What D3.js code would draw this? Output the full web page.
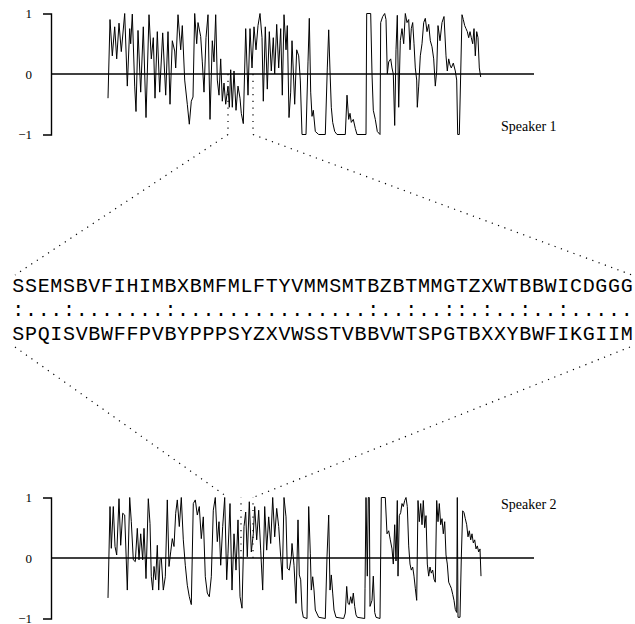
<!DOCTYPE html>
<html>
<head>
<meta charset="utf-8">
<script src="https://cdn.jsdelivr.net/npm/d3@7"></script>
<style>
body { margin: 0; background: #fff; }
svg { display: block; }
.tick text { font-family: "Liberation Serif", serif; font-size: 13px; }
</style>
</head>
<body>
<svg id="chart" width="635" height="624"></svg>
<script>
// [frame, value] pairs
var speaker1 = [[0,-0.4],[2,0.9],[4.3,0.3],[6.7,0.78],[8.7,0.25],[11,0.84],[13.3,0.37],[16.7,1],[19.3,-0.2],[21.7,0.75],[22.7,0.5],[24.3,0.99],[26.7,-0.2],[28,-0.62],[30,0.72],[32.7,-0.3],[35.3,0.78],[38,-0.72],[41,0.98],[43.3,0.25],[45.3,0.6],[47,-0.4],[49.3,0.7],[51.7,-0.3],[54.7,0.68],[57.7,-0.35],[60,0.7],[62,-0.5],[64.3,0.55],[66.7,0.38],[67.7,0.1],[70,0.98],[72.7,0.4],[74.3,0.8],[76.7,-0.1],[79.3,-0.5],[81.3,-0.83],[83.3,-0.45],[85,-0.38],[86.7,1],[88.7,0.5],[90,0.85],[92.7,0.62],[94.3,0.2],[96,-0.3],[98,0.6],[100,0.98],[102,-0.75],[104.3,0.55],[106,0.2],[107.7,0.98],[109.3,-0.1],[111,-0.35],[112.7,0.25],[114.3,-0.45],[116,-0.15],[117.7,-0.5],[120,-0.2],[121.3,-0.55],[122.7,0.07],[124.3,-0.55],[126,0.05],[128,-0.6],[130,-0.2],[132,-0.4],[133.3,-0.65],[135.3,-0.82],[137.7,0.75],[140,-0.35],[142,0.75],[144,0.1],[146,0.78],[148,0.4],[150,0.8],[152,1],[154,0.6],[155.3,-0.45],[157.3,0.78],[159.3,-0.25],[161.3,0.7],[163.3,0.05],[165.3,0.6],[166.7,0],[168.7,0.82],[170.7,0.1],[172.7,0.75],[174.3,-0.35],[176,0.98],[178,0.4],[179.3,0.8],[181,-0.72],[182.7,-0.3],[184,0.55],[186.7,-0.5],[188.7,0.4],[190.7,0.3],[192.3,-0.1],[194,-1],[198,-1],[200,0.2],[201.3,0.92],[202.7,-0.3],[204,-0.7],[205.3,-0.6],[207.3,-0.95],[210.7,-1],[217.3,-1],[219.3,0.1],[220.7,0.73],[222,0.05],[223.3,-0.55],[224.7,-0.8],[226.7,-0.95],[229,-1],[237.3,-1],[239,-0.35],[240.7,-0.75],[242,-0.65],[243.3,-0.8],[245.3,-0.75],[247.3,-0.9],[249,-1],[258,-1],[258.7,1],[262.7,1],[264,0],[265.3,-0.6],[267.3,-0.75],[269.3,-0.95],[272,-1],[272.7,0.85],[274.7,0.95],[276.7,1],[278,0.9],[279.3,0],[280.7,0.2],[282.7,0.25],[284,0.1],[285.3,0],[286.7,-0.85],[288,0.4],[289.3,0.97],[290.7,-0.55],[292.3,0.55],[294,0.75],[295.7,0.5],[297.3,1],[299,0.85],[300.7,0.9],[302,0.4],[303.3,0.75],[304.7,0.85],[306,0.5],[307.3,0.1],[308.7,-0.1],[309.3,-0.55],[310.7,-0.2],[312.3,0.3],[314,0.5],[315.7,0.85],[317.3,0.92],[319,0.7],[320.7,0.82],[322.3,0.55],[324,0.45],[325.7,0.25],[327.3,-0.2],[328.7,0.05],[330,0.8],[332,0.55],[334,0.85],[336,0.95],[338,0.3],[339.3,0.05],[340.7,0.25],[342,0.15],[343.3,0.1],[345.3,0.18],[347.3,0.05],[348.7,-0.1],[349.7,-1],[351.3,-1],[352.7,0],[354,0.98],[355.3,0.9],[356.7,0.8],[358,0.75],[359.3,0.7],[360.7,0.6],[362,0.7],[363.3,0.6],[364.7,0.5],[366,0.75],[367.3,0.3],[368.7,0.7],[370,0.6],[371.3,0.1],[372.7,-0.05]];

var speaker2 = [[0,-0.66],[2,0.85],[3.3,0.16],[5.3,0.85],[7,0.19],[8.7,0.05],[11,0.98],[12.7,0.21],[14.7,0.74],[16.7,0.71],[19.3,-0.53],[21.7,1],[23.3,0.6],[25.3,-0.03],[27.3,-0.06],[29.3,0.49],[31,-0.03],[32.7,0.4],[34.7,-0.03],[36,0.49],[38,-0.34],[40.3,0.98],[42,0.57],[43.3,-0.31],[44.7,-0.53],[46,-0.14],[47.7,-0.36],[49.3,0.21],[50.7,-0.53],[52,-0.03],[53.3,0],[55.3,-0.53],[57.3,-0.31],[59.3,0.96],[61,-0.14],[62.7,0.1],[64.3,0.32],[66,0.19],[67.7,0.74],[69.3,0.96],[71.3,0.52],[73.3,1],[75.3,0.3],[77.3,-0.12],[79.3,-0.45],[81.3,-0.64],[83.3,-0.77],[85.3,0.9],[87.3,0.96],[89.3,0.71],[91.3,0.85],[93.3,0.32],[95.3,0.68],[97.3,-0.31],[99.3,-0.58],[101.3,-0.64],[103.3,-0.31],[105.3,0.79],[107.3,1],[109.3,0.27],[111,0.6],[112.7,-0.12],[114.7,0.52],[116.7,1],[118.7,-0.36],[120,0.08],[122,0.9],[124,-0.53],[126,0.4],[128,-0.2],[130,0.63],[132,-0.64],[134,-0.83],[136,0.52],[137.7,0.76],[139.3,0.02],[141.3,0.93],[143.3,0.1],[145.3,0.4],[146.7,0.85],[148.7,0.3],[150.7,0.79],[152.7,0.13],[154.7,-0.53],[156.7,0.85],[158.7,0.13],[160.7,0.68],[162.7,0.24],[164.7,1],[166.7,0.35],[168.7,0.82],[170.7,0.52],[172.7,0.02],[174.3,-0.36],[176,1],[178,0.68],[179.3,-0.17],[181.3,-0.2],[183.3,0.02],[184,0.24],[186,-0.12],[188,-0.75],[190,0.63],[191.3,-0.28],[192.7,-0.36],[194,-0.86],[195.3,-0.98],[199,-1],[200.7,0.85],[202.3,0.08],[203.3,-0.53],[204.7,-0.31],[206,-0.53],[207.3,-0.86],[210.7,-0.98],[217.3,-1],[219,0.02],[220.7,0.71],[222,-0.53],[223.3,-0.28],[224.7,-0.58],[226,-0.86],[228,-0.98],[235.7,-1],[237.3,-0.91],[238.7,-0.47],[240,-0.75],[241.3,-0.77],[242.7,-0.64],[244,-0.75],[245.3,-0.58],[246.7,-0.8],[248,-0.94],[249.3,-0.98],[256.7,-1],[257,-0.5],[258,1],[259.3,-0.3],[260.3,1],[261.3,1],[262,-0.8],[264,-0.7],[265.3,-0.3],[266.7,-0.9],[268,-0.98],[272,-1],[273.3,1],[277.3,1],[279,0.4],[280.7,0.45],[282.3,0.3],[284,0.15],[285.3,-0.1],[286.7,0.55],[288,-0.05],[289.3,0.95],[290,-0.3],[291.3,0.7],[292.7,0.75],[294,0.9],[295.3,0.85],[296.7,0.95],[298,1],[299.3,0.85],[300.7,0.2],[302,-0.1],[303.3,-0.2],[304.7,-0.15],[306,-0.3],[307.3,-0.5],[308.7,-0.7],[310,0.95],[311.3,0.6],[312.7,0.9],[314,0.55],[315.3,0.95],[316.7,0.5],[318,0.7],[319.3,-0.1],[320.7,-0.3],[322,-0.15],[323.3,-0.25],[324.7,-0.2],[326,-0.35],[327.3,-0.4],[328.7,0.95],[330,0.6],[331.3,0.9],[332.7,0.55],[334,0.65],[335.3,0.4],[336.7,0.6],[338,0.05],[339.3,-0.1],[340.7,-0.4],[342,-0.45],[343.3,-0.5],[344.7,-0.6],[346,-0.7],[347.3,-0.85],[348.7,-0.9],[349.3,1],[350,-0.98],[352,-0.98],[353.3,0],[354.7,0.78],[356,0.75],[357.3,0.65],[358.7,0.55],[360,0.35],[361.3,0.45],[362.7,0.3],[364,0.4],[365.3,0.25],[366.7,0.3],[368,0.15],[369.3,0.2],[370.7,0.1],[372,0.15],[373,-0.3]];

var seq1 = "SSEMSBVFIHIMBXBMFMLFTYVMMSMTBZBTMMGTZXWTBBWICDGGG";
var seq2 = "SPQISVBWFFPVBYPPPSYZXVWSSTVBBVWTSPGTBXXYBWFIKGIIM";
var linkWindow = [120, 145];   // frames the text block is linked to
var window2 = [133, 145];      // frames marked on speaker 2
var yTicks = [-1, 0, 1];
var speakerNames = ["Speaker 1", "Speaker 2"];

var svg = d3.select("#chart");
var frameLeft = 51, frameRight = 534;

var x = d3.scaleLinear().domain([0, 373]).range([108, 481]);
var yTop = d3.scaleLinear().domain([-1, 1]).range([134.5, 13.5]);
var yBot = d3.scaleLinear().domain([-1, 1]).range([618.5, 497.5]);

// middle text block
var seqX = d3.scaleBand().domain(d3.range(seq1.length)).range([12, 633]);
var rowY = [292, 316, 340];
var match = seq1.split("").map(function(c, i){ return c === seq2[i] ? ":" : "."; }).join("");
var rows = [seq1, match, seq2];

function dotted(x1, y1, x2, y2) {
	svg.append("line")
		.attr("x1", x1).attr("y1", y1).attr("x2", x2).attr("y2", y2)
		.attr("stroke", "#000")
		.attr("stroke-width", 1.2)
		.attr("stroke-dasharray", "1.2,5.5");
}

// connectors: top speaker down to text block
dotted(x(linkWindow[0]), yTop(0), x(linkWindow[0]), yTop(-1));
dotted(x(linkWindow[1]), yTop(0), x(linkWindow[1]), yTop(-1));
dotted(x(linkWindow[0]), yTop(-1), 15, 275);
dotted(x(linkWindow[1]), yTop(-1), 632, 275);
// text block down to bottom speaker
dotted(x(window2[0]), yBot(0), x(window2[0]), yBot(1));
dotted(x(window2[1]), yBot(0), x(window2[1]), yBot(1));
dotted(15, 347, x(linkWindow[0]), yBot(1));
dotted(630, 347, x(linkWindow[1]), yBot(1));

function panel(data, y, name, labelY) {
	var g = svg.append("g");
	var line = d3.line()
		.x(function(d){ return x(d[0]); })
		.y(function(d){ return y(d[1]); });

	g.append("path")
		.datum(data)
		.attr("d", line)
		.attr("fill", "none")
		.attr("stroke", "#000")
		.attr("stroke-width", 1);

	// zero line
	g.append("line")
		.attr("x1", frameLeft).attr("x2", frameRight)
		.attr("y1", y(0)).attr("y2", y(0))
		.attr("stroke", "#000")
		.attr("stroke-width", 1.5);

	var axis = d3.axisLeft(y)
		.tickValues(yTicks)
		.tickFormat(d3.format("d"))
		.tickSizeInner(0)
		.tickSizeOuter(8)
		.tickPadding(19);

	var ax = g.append("g")
		.attr("transform", "translate(" + frameLeft + ",0)")
		.call(axis);
	ax.select(".domain").attr("stroke-width", 1.4);
	ax.selectAll(".tick text").attr("fill", "#000");

	g.append("text")
		.attr("x", 501)
		.attr("y", labelY)
		.style("font-family", "Liberation Serif, serif")
		.style("font-size", "14px")
		.text(name);
}

panel(speaker1, yTop, speakerNames[0], 131);
panel(speaker2, yBot, speakerNames[1], 509);

svg.selectAll("g.row")
	.data(rows)
	.enter().append("g")
	.attr("class", "row")
	.each(function(r, ri){
		d3.select(this).selectAll("text")
			.data(r.split(""))
			.enter().append("text")
			.attr("x", function(c, i){ return seqX(i) + seqX.bandwidth() / 2; })
			.attr("y", rowY[ri])
			.attr("text-anchor", "middle")
			.style("font-family", "Liberation Mono, monospace")
			.style("font-size", "20px")
			.text(function(c){ return c; });
	});
</script>
</body>
</html>
